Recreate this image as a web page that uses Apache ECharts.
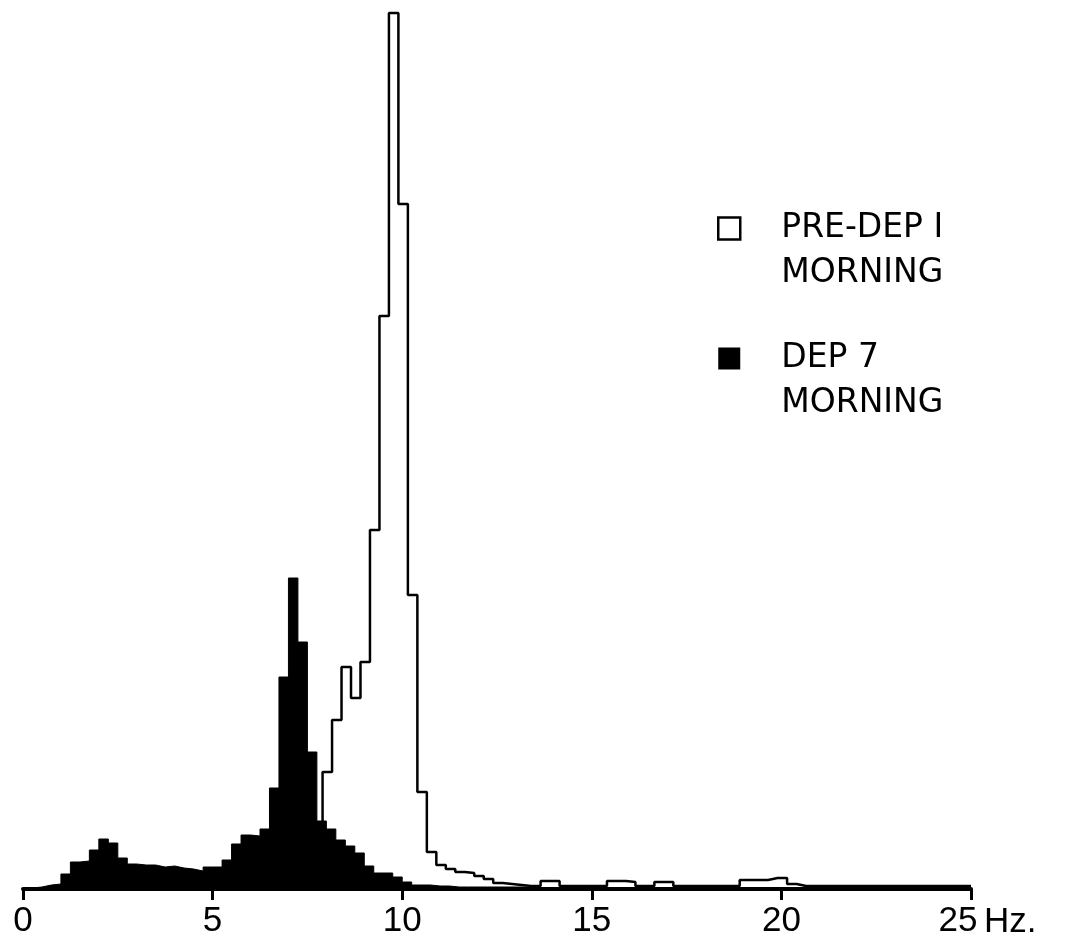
<!DOCTYPE html>
<html>
<head>
<meta charset="utf-8">
<script src="https://cdn.jsdelivr.net/npm/echarts@6/dist/echarts.min.js"></script>
<style>
  html, body { margin: 0; padding: 0; background: #fff; }
  #chart { width: 1074px; height: 943px; }
</style>
</head>
<body>
<div id="chart"></div>
<script>
// ---- data (arbitrary power units, 0.25 Hz bins) ----
const binWidth = 0.25;
const tickLabels = ['0', '5', '10', '15', '20', '25'];

const dep7Name = 'DEP 7\nMORNING';
const dep7Start = 0.0;          // first bin left edge (Hz)
const dep7Values = [
  1, 2, 4, 5, 15, 27, 28, 39, 50, 46,
  31, 25, 24, 24, 22, 23, 21, 20, 18, 22,
  22, 29, 45, 54, 53, 60, 101, 212, 311, 247,
  137, 68, 60, 49, 43, 36, 23, 16, 16, 12,
  7, 4, 4, 3, 3, 2, 2, 2, 2, 2,
  2, 2, 2, 1.5, 1.5, 1, 1, 1, 1, 1,
  1, 1, 1, 1, 1, 1, 1, 1, 1, 1,
  1, 1, 1, 1, 1, 1, 1, 1, 1, 1,
  1, 1, 1, 1, 1, 1, 1, 1, 1, 1,
  1, 1, 1, 1, 1, 1, 1, 1, 1, 1
];

const preDepName = 'PRE-DEP I\nMORNING';
const preDepStart = 7.65;       // first bin left edge (Hz)
const preDepValues = [
  55, 117, 169, 222, 191, 227, 359, 573, 876, 685,
  294, 97, 37, 24, 20, 17, 16, 13, 10, 6,
  5, 4, 3, 3, 8, 8, 3, 3, 3, 3,
  3, 8, 8, 7, 3, 3, 7, 7, 3, 3,
  3, 3, 3, 3, 3, 9, 9, 9, 11, 11,
  5, 3, 3, 3, 3, 3, 3, 3, 3, 3,
  3, 3, 3, 3, 3, 3, 3, 3, 3, 3
];

// ---- build step points (bin left edges + closing right edge) ----
function stepPoints(start, values) {
  const pts = values.map((v, i) => [start + i * binWidth, v]);
  const last = values.length - 1;
  pts.push([Math.min(25, start + values.length * binWidth), values[last]]);
  return pts;
}

const chart = echarts.init(document.getElementById('chart'), null, { renderer: 'canvas' });
const font = 'Liberation Sans';

chart.setOption({
  animation: false,
  backgroundColor: '#fff',
  grid: { left: 23, right: 103, top: 9, bottom: 54, containLabel: false },
  xAxis: {
    type: 'value',
    min: 0, max: 25, interval: 5,
    name: 'Hz.',
    nameLocation: 'end',
    nameGap: 13,
    nameTextStyle: { color: '#000', fontSize: 35, fontFamily: font, verticalAlign: 'top', padding: [16, 0, 0, 0] },
    axisLine: { show: true, onZero: false, lineStyle: { color: '#000', width: 4 } },
    axisTick: { show: true, inside: false, length: 11, lineStyle: { color: '#000', width: 3 } },
    splitLine: { show: false },
    axisLabel: {
      color: '#000', fontSize: 35, fontFamily: font, margin: 15,
      formatter: function (v) {
        const t = tickLabels[Math.round(v / 5)];
        return v === 25 ? '{r|' + t + '}' : t;
      },
      rich: { r: { color: '#000', fontSize: 35, fontFamily: font, padding: [0, 26, 0, 0] } }
    }
  },
  yAxis: { type: 'value', min: 0, max: 880, show: false },
  legend: {
    orient: 'vertical',
    left: 712, top: 156,
    itemWidth: 22, itemHeight: 22,
    itemGap: -5,
    selectedMode: false,
    formatter: function (name) { return '\n' + name; },
    textStyle: { color: '#000', fontSize: 33, fontFamily: 'DejaVu Sans', lineHeight: 45, padding: [0, 0, 0, 36] },
    data: [
      { name: preDepName, icon: 'rect', itemStyle: { color: '#fff', borderColor: '#000', borderWidth: 2.5 } },
      { name: dep7Name, icon: 'rect', itemStyle: { color: '#000', borderWidth: 0 } }
    ]
  },
  series: [
    {
      name: dep7Name,
      type: 'line',
      step: 'end',
      symbol: 'none',
      z: 2,
      color: '#000',
      lineStyle: { color: '#000', width: 1 },
      areaStyle: { color: '#000', opacity: 1 },
      data: stepPoints(dep7Start, dep7Values)
    },
    {
      name: preDepName,
      type: 'line',
      step: 'end',
      symbol: 'none',
      z: 3,
      color: '#000',
      lineStyle: { color: '#000', width: 2.5 },
      data: stepPoints(preDepStart, preDepValues)
    }
  ]
});
</script>
</body>
</html>
